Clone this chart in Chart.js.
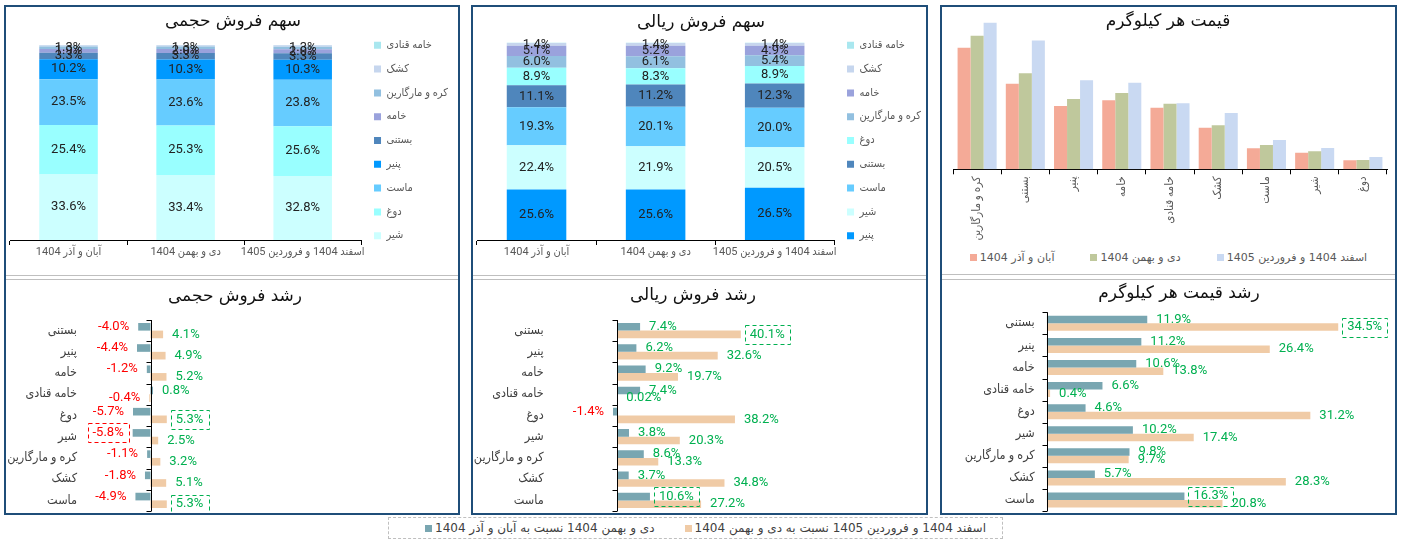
<!doctype html>
<html lang="fa">
<head>
<meta charset="utf-8" />
<title>داشبورد فروش</title>
<script src="https://cdn.jsdelivr.net/npm/chart.js@4.4.1/dist/chart.umd.min.js"></script>
<style>
  body { margin: 0; width: 1401px; height: 545px; background: #fff; position: relative; overflow: hidden;
         font-family: Roboto, "DejaVu Sans Condensed", "DejaVu Sans", sans-serif; }
  .col { position: absolute; top: 5px; height: 506px; border: 2px solid #1F4E79; }
  .sep { position: absolute; height: 1px; background: #BFBFBF; }
  canvas { position: absolute; }
  .title { position: absolute; transform: translate(-50%, -50%); white-space: nowrap;
           font: 17px "DejaVu Sans", sans-serif; color: #111; direction: rtl; }
  .legend { position: absolute; display: flex; align-items: center; white-space: nowrap;
            font: 12px "DejaVu Sans", sans-serif; color: #404040; }
  .legend span.box { display: inline-block; width: 7px; height: 7px; margin-right: 3px; }
  .legend .item { display: flex; align-items: center; }
  #priceLegend { left: 942px; width: 453px; top: 250px; height: 14px; justify-content: center; gap: 36px;
                 font-size: 11px; color: #595959; }
  #growthLegend { left: 388px; top: 517px; width: 615px; height: 22px; border: 1px dashed #BFBFBF;
                  padding-left: 36px; box-sizing: border-box; gap: 30px; }
</style>
</head>
<body>
<div class="col" style="left:4px;width:452px"></div>
<div class="col" style="left:471px;width:453px"></div>
<div class="col" style="left:940px;width:453px"></div>
<div class="sep" style="left:6px;width:452px;top:275px"></div>
<div class="sep" style="left:6px;width:452px;top:279px"></div>
<div class="sep" style="left:473px;width:453px;top:275px"></div>
<div class="sep" style="left:473px;width:453px;top:279px"></div>
<div class="sep" style="left:942px;width:453px;top:274px"></div>
<div class="sep" style="left:942px;width:453px;top:279px"></div>

<canvas id="volumeShare" width="452" height="267" style="left:6px;top:7px"></canvas>
<canvas id="rialShare" width="453" height="267" style="left:473px;top:7px"></canvas>
<canvas id="price" width="453" height="240" style="left:942px;top:7px"></canvas>
<canvas id="volumeGrowth" width="452" height="233" style="left:6px;top:280px"></canvas>
<canvas id="rialGrowth" width="453" height="233" style="left:473px;top:280px"></canvas>
<canvas id="priceGrowth" width="453" height="233" style="left:942px;top:280px"></canvas>

<div class="title" style="left:233px;top:20px">سهم فروش حجمی</div>
<div class="title" style="left:701px;top:21px">سهم فروش ریالی</div>
<div class="title" style="left:1168px;top:20px">قیمت هر کیلوگرم</div>
<div class="title" style="left:235px;top:295px">رشد فروش حجمی</div>
<div class="title" style="left:693px;top:294px">رشد فروش ریالی</div>
<div class="title" style="left:1179px;top:292px">رشد قیمت هر کیلوگرم</div>

<div class="legend" id="priceLegend"></div>
<div class="legend" id="growthLegend"></div>

<script>
// دوره ها
const periods = ["آبان و آذر 1404", "دی و بهمن 1404", "اسفند 1404 و فروردین 1405"];

// سهم فروش حجمی (از پایین به بالا)
const volumeProducts = ["شیر", "دوغ", "ماست", "پنیر", "بستنی", "خامه", "کره و مارگارین", "کشک", "خامه قنادی"];
const volumeShareAbanAzar = [33.6, 25.4, 23.5, 10.2, 3.3, 1.9, 1.3, 0.7, 0.1];
const volumeShareDeyBahman = [33.4, 25.3, 23.6, 10.3, 3.3, 2.0, 1.3, 0.7, 0.1];
const volumeShareEsfandFarvardin = [32.8, 25.6, 23.8, 10.3, 3.3, 2.0, 1.3, 0.8, 0.1];

// سهم فروش ریالی (از پایین به بالا)
const rialProducts = ["پنیر", "شیر", "ماست", "بستنی", "دوغ", "کره و مارگارین", "خامه", "کشک", "خامه قنادی"];
const rialShareAbanAzar = [25.6, 22.4, 19.3, 11.1, 8.9, 6.0, 5.1, 1.4, 0.2];
const rialShareDeyBahman = [25.6, 21.9, 20.1, 11.2, 8.3, 6.1, 5.2, 1.4, 0.2];
const rialShareEsfandFarvardin = [26.5, 20.5, 20.0, 12.3, 8.9, 5.4, 4.9, 1.4, 0.1];

// قیمت هر کیلوگرم (هزار تومان، تخمینی)
const priceProducts = ["کره و مارگارین", "بستنی", "پنیر", "خامه", "خامه قنادی", "کشک", "ماست", "شیر", "دوغ"];
const priceAbanAzar = [365, 257, 190, 207, 185, 125, 63, 49.5, 27];
const priceDeyBahman = [401, 288, 211, 229, 197, 132, 73, 54.5, 28.2];
const priceEsfandFarvardin = [440, 387, 267, 260, 198, 169, 88, 64, 37];

// رشدها (درصد)
const growthProducts = ["بستنی", "پنیر", "خامه", "خامه قنادی", "دوغ", "شیر", "کره و مارگارین", "کشک", "ماست"];
const growthNames = ["دی و بهمن 1404 نسبت به آبان و آذر 1404", "اسفند 1404 و فروردین 1405 نسبت به دی و بهمن 1404"];
const volumeGrowthDey = [-4.0, -4.4, -1.2, 0.8, -5.7, -5.8, -1.1, -1.8, -4.9];
const volumeGrowthEsfand = [4.1, 4.9, 5.2, -0.4, 5.3, 2.5, 3.2, 5.1, 5.3];
const rialGrowthDey = [7.4, 6.2, 9.2, 7.4, -1.4, 3.8, 8.6, 3.7, 10.6];
const rialGrowthEsfand = [40.1, 32.6, 19.7, 0.02, 38.2, 20.3, 13.3, 34.8, 27.2];
const priceGrowthDey = [11.9, 11.2, 10.6, 6.6, 4.6, 10.2, 9.8, 5.7, 16.3];
const priceGrowthEsfand = [34.5, 26.4, 13.8, 0.4, 31.2, 17.4, 9.7, 28.3, 20.8];

const productColors = {
  "شیر": "#CCFFFF", "دوغ": "#99FFFF", "ماست": "#66CCFF", "پنیر": "#0099FF", "بستنی": "#4F86BC",
  "خامه": "#9AA2DC", "کره و مارگارین": "#92C0E0", "کشک": "#C6D6EE", "خامه قنادی": "#A9E7EF"
};
const periodColors = ["#F4AA97", "#BFC89C", "#C9D9F2"];
const growthColors = ["#79A6B1", "#F0CBA6"];

Chart.defaults.font.family = 'Roboto, "DejaVu Sans Condensed", "DejaVu Sans", sans-serif';
Chart.defaults.animation = false;
Chart.defaults.plugins.tooltip.enabled = false;

function fmtPct(v) {
  const a = Math.abs(v);
  return (a > 0 && a < 0.1 ? v.toFixed(2) : v.toFixed(1)) + "%";
}

// برچسب داخل ستون های انباشته
const stackLabels = {
  id: "stackLabels",
  afterDatasetsDraw(chart) {
    const ctx = chart.ctx;
    ctx.save();
    ctx.font = '13px Roboto, "DejaVu Sans"';
    ctx.fillStyle = "#222";
    ctx.textAlign = "center";
    ctx.textBaseline = "middle";
    chart.data.datasets.forEach((ds, di) => {
      chart.getDatasetMeta(di).data.forEach((bar, i) => {
        const v = ds.data[i];
        if (v < 1) return;
        const p = bar.getCenterPoint();
        ctx.fillText(fmtPct(v), p.x, p.y);
      });
    });
    ctx.restore();
  }
};

// محور صفر با تیک ها
const zeroAxis = {
  id: "zeroAxis",
  afterDatasetsDraw(chart) {
    const { ctx, chartArea, scales } = chart;
    const x0 = Math.round(scales.x.getPixelForValue(0)) + 0.5;
    ctx.save();
    ctx.strokeStyle = "#000";
    ctx.lineWidth = 1;
    ctx.beginPath();
    ctx.moveTo(x0, chartArea.top);
    ctx.lineTo(x0, chartArea.bottom);
    for (let i = 0; i <= chart.data.labels.length; i++) {
      const y = Math.round(scales.y.getPixelForValue(i - 0.5)) + 0.5;
      ctx.moveTo(x0 - 5, y);
      ctx.lineTo(x0, y);
    }
    ctx.stroke();
    ctx.restore();
  }
};

// برچسب رشد، با کادر برای بیشترین مقدار هر سری
const growthLabels = {
  id: "growthLabels",
  afterDatasetsDraw(chart) {
    const ctx = chart.ctx;
    ctx.save();
    ctx.font = '13px Roboto, "DejaVu Sans"';
    ctx.textBaseline = "middle";
    chart.data.datasets.forEach((ds, di) => {
      const maxAbs = Math.max(...ds.data.map(Math.abs));
      chart.getDatasetMeta(di).data.forEach((bar, i) => {
        const v = ds.data[i];
        const neg = v < 0;
        const color = neg ? "#FF0000" : "#00B050";
        const txt = fmtPct(v);
        const x = neg ? bar.x - 9 : bar.x + 9;
        ctx.textAlign = neg ? "right" : "left";
        ctx.fillStyle = color;
        ctx.fillText(txt, x, bar.y);
        if (Math.abs(v) === maxAbs) {
          const w = ctx.measureText(txt).width + 10;
          const bx = neg ? x - w + 5 : x - 5;
          ctx.strokeStyle = color;
          ctx.lineWidth = 1;
          ctx.setLineDash([4, 3]);
          ctx.strokeRect(Math.round(bx) + 0.5, Math.round(bar.y - 9.5) + 0.5, Math.round(w), 19);
          ctx.setLineDash([]);
        }
      });
    });
    ctx.restore();
  }
};

function shareChart(id, products, series, yMax, padRight) {
  return new Chart(document.getElementById(id), {
    type: "bar",
    data: {
      labels: periods,
      datasets: products.map((p, i) => ({
        label: p,
        data: series.map(s => s[i]),
        backgroundColor: productColors[p],
        barPercentage: 0.5,
        categoryPercentage: 1
      }))
    },
    options: {
      responsive: false,
      layout: { padding: { left: 4, right: padRight, top: 0, bottom: 0 } },
      scales: {
        x: {
          stacked: true,
          grid: { drawOnChartArea: false, color: "#000", tickLength: 5 },
          border: { color: "#000" },
          ticks: { color: "#595959", font: { size: 11 }, padding: 1, minRotation: 0, maxRotation: 0, autoSkip: false },
          afterFit: s => { s.height = 34; }
        },
        y: { stacked: true, display: false, min: 0, max: yMax }
      },
      plugins: {
        legend: {
          position: "right",
          reverse: true,
          labels: { boxWidth: 7, boxHeight: 7, padding: 12.8, color: "#595959", font: { size: 11 } }
        }
      }
    },
    plugins: [stackLabels]
  });
}

function growthChart(id, dey, esfand, xMin, xMax, axisWidth, pad, catPct) {
  return new Chart(document.getElementById(id), {
    type: "bar",
    data: {
      labels: growthProducts,
      datasets: [
        { label: growthNames[0], data: dey, backgroundColor: growthColors[0] },
        { label: growthNames[1], data: esfand, backgroundColor: growthColors[1] }
      ]
    },
    options: {
      indexAxis: "y",
      responsive: false,
      datasets: { bar: { categoryPercentage: catPct, barPercentage: 1 } },
      layout: { padding: pad },
      scales: {
        x: {
          min: xMin, max: xMax,
          grid: { display: false, drawTicks: false },
          border: { display: false },
          ticks: { display: false },
          afterFit: s => { s.height = 0; }
        },
        y: {
          grid: { display: false, drawTicks: false },
          border: { display: false },
          ticks: { color: "#404040", font: { size: 12.5 }, padding: 12 },
          afterFit: s => { s.width = axisWidth; s.paddingTop = 0; s.paddingBottom = 0; }
        }
      },
      plugins: { legend: { display: false } }
    },
    plugins: [zeroAxis, growthLabels]
  });
}

shareChart("volumeShare", volumeProducts,
  [volumeShareAbanAzar, volumeShareDeyBahman, volumeShareEsfandFarvardin], 119.5, 0);
shareChart("rialShare", rialProducts,
  [rialShareAbanAzar, rialShareDeyBahman, rialShareEsfandFarvardin], 118.1, -5);

new Chart(document.getElementById("price"), {
  type: "bar",
  data: {
    labels: priceProducts,
    datasets: [priceAbanAzar, priceDeyBahman, priceEsfandFarvardin].map((d, i) => ({
      label: periods[i], data: d, backgroundColor: periodColors[i]
    }))
  },
  options: {
    responsive: false,
    datasets: { bar: { categoryPercentage: 0.81, barPercentage: 1 } },
    layout: { padding: { left: 11, right: 8, top: 12.4, bottom: 0 } },
    scales: {
      x: {
        grid: { drawOnChartArea: false, color: "#000", tickLength: 5 },
        border: { color: "#000" },
        ticks: { color: "#595959", font: { size: 11.5 }, minRotation: 90, maxRotation: 90, autoSkip: false, padding: 2 },
        afterFit: s => { s.height = 77.7; }
      },
      y: { display: false, min: 0, max: 450 }
    },
    plugins: { legend: { display: false } }
  }
});

growthChart("volumeGrowth", volumeGrowthDey, volumeGrowthEsfand, -20, 100, 83,
  { left: 0, right: 0, top: 40, bottom: 2 }, 0.72);
growthChart("rialGrowth", rialGrowthDey, rialGrowthEsfand, -20, 100, 82.7,
  { left: 0, right: 0.7, top: 40, bottom: 2 }, 0.72);
growthChart("priceGrowth", priceGrowthDey, priceGrowthEsfand, 0, 40, 104.7,
  { left: 0, right: 10.3, top: 32.3, bottom: 2 }, 0.68);

// راهنماها
function htmlLegend(el, names, colors) {
  names.forEach((n, i) => {
    const item = document.createElement("div");
    item.className = "item";
    const box = document.createElement("span");
    box.className = "box";
    box.style.background = colors[i];
    const t = document.createElement("span");
    t.textContent = n;
    item.appendChild(box);
    item.appendChild(t);
    el.appendChild(item);
  });
}
htmlLegend(document.getElementById("priceLegend"), periods, periodColors);
htmlLegend(document.getElementById("growthLegend"), growthNames, growthColors);
</script>
</body>
</html>
